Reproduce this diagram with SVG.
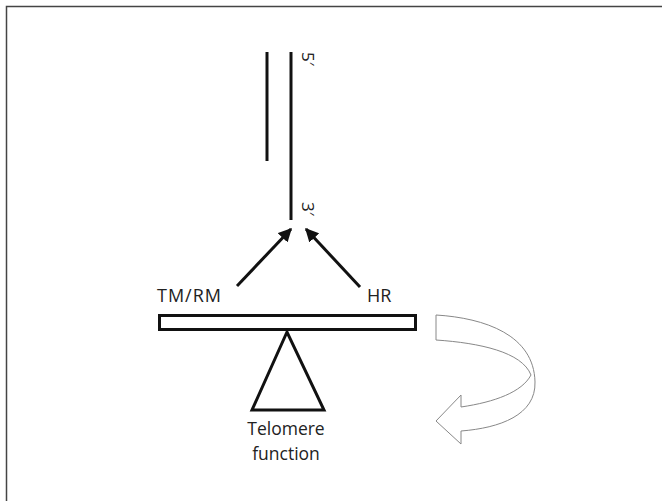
<svg xmlns="http://www.w3.org/2000/svg" width="662" height="501" viewBox="0 0 662 501">
<style>
.t{font-family:"Open Sans","Noto Sans","Liberation Sans",sans-serif;fill:#222}
.k{stroke:#111;fill:none;stroke-width:3}
</style>
<defs>
<marker id="ah" viewBox="0 0 10 10" refX="9" refY="5" markerWidth="4.5" markerHeight="4.5" orient="auto" markerUnits="strokeWidth">
<path d="M0,0 L10,5 L0,10 Z" fill="#111"/>
</marker>
</defs>
<rect width="662" height="501" fill="#fff"/>
<path d="M6.5,501 V6.5 H662" fill="none" stroke="#444" stroke-width="1.5"/>
<g id="dna">
<line class="k" x1="267" y1="52" x2="267" y2="161"/>
<line class="k" x1="291" y1="52" x2="291" y2="220"/>
<text class="t" font-size="17" transform="translate(302,52) rotate(90)">5′</text>
<text class="t" font-size="17" transform="translate(302,202) rotate(90)">3′</text>
</g>
<g id="connectors">
<line class="k" x1="237" y1="286" x2="291" y2="229" marker-end="url(#ah)"/>
<line class="k" x1="360" y1="287" x2="306" y2="229" marker-end="url(#ah)"/>
</g>
<g id="tmrm"><text class="t" font-size="18" x="157" y="302" textLength="64">TM/RM</text></g>
<g id="hr"><text class="t" font-size="18" x="367" y="302">HR</text></g>
<g id="beam"><rect x="159.5" y="315.5" width="256" height="14" fill="#fff" stroke="#111" stroke-width="3"/></g>
<g id="fulcrum"><path d="M287,332 L252,410 L324,410 Z" fill="#fff" stroke="#111" stroke-width="3" stroke-linejoin="miter"/></g>
<g id="telomere">
<text class="t" font-size="17.5" x="286" y="435" text-anchor="middle">Telomere</text>
<text class="t" font-size="17.5" x="286" y="460" text-anchor="middle">function</text>
</g>
<g id="curved-arrow" fill="#fff" stroke="#888" stroke-width="1">
<path d="M436,315 C485,318 534,335 535,382 C536,415 500,428 461,431 L461,444 L436,421 L461,395 L461,407 C495,402 522,392 531,375 C522,352 480,343 436,340 Z"/>
</g>
</svg>
